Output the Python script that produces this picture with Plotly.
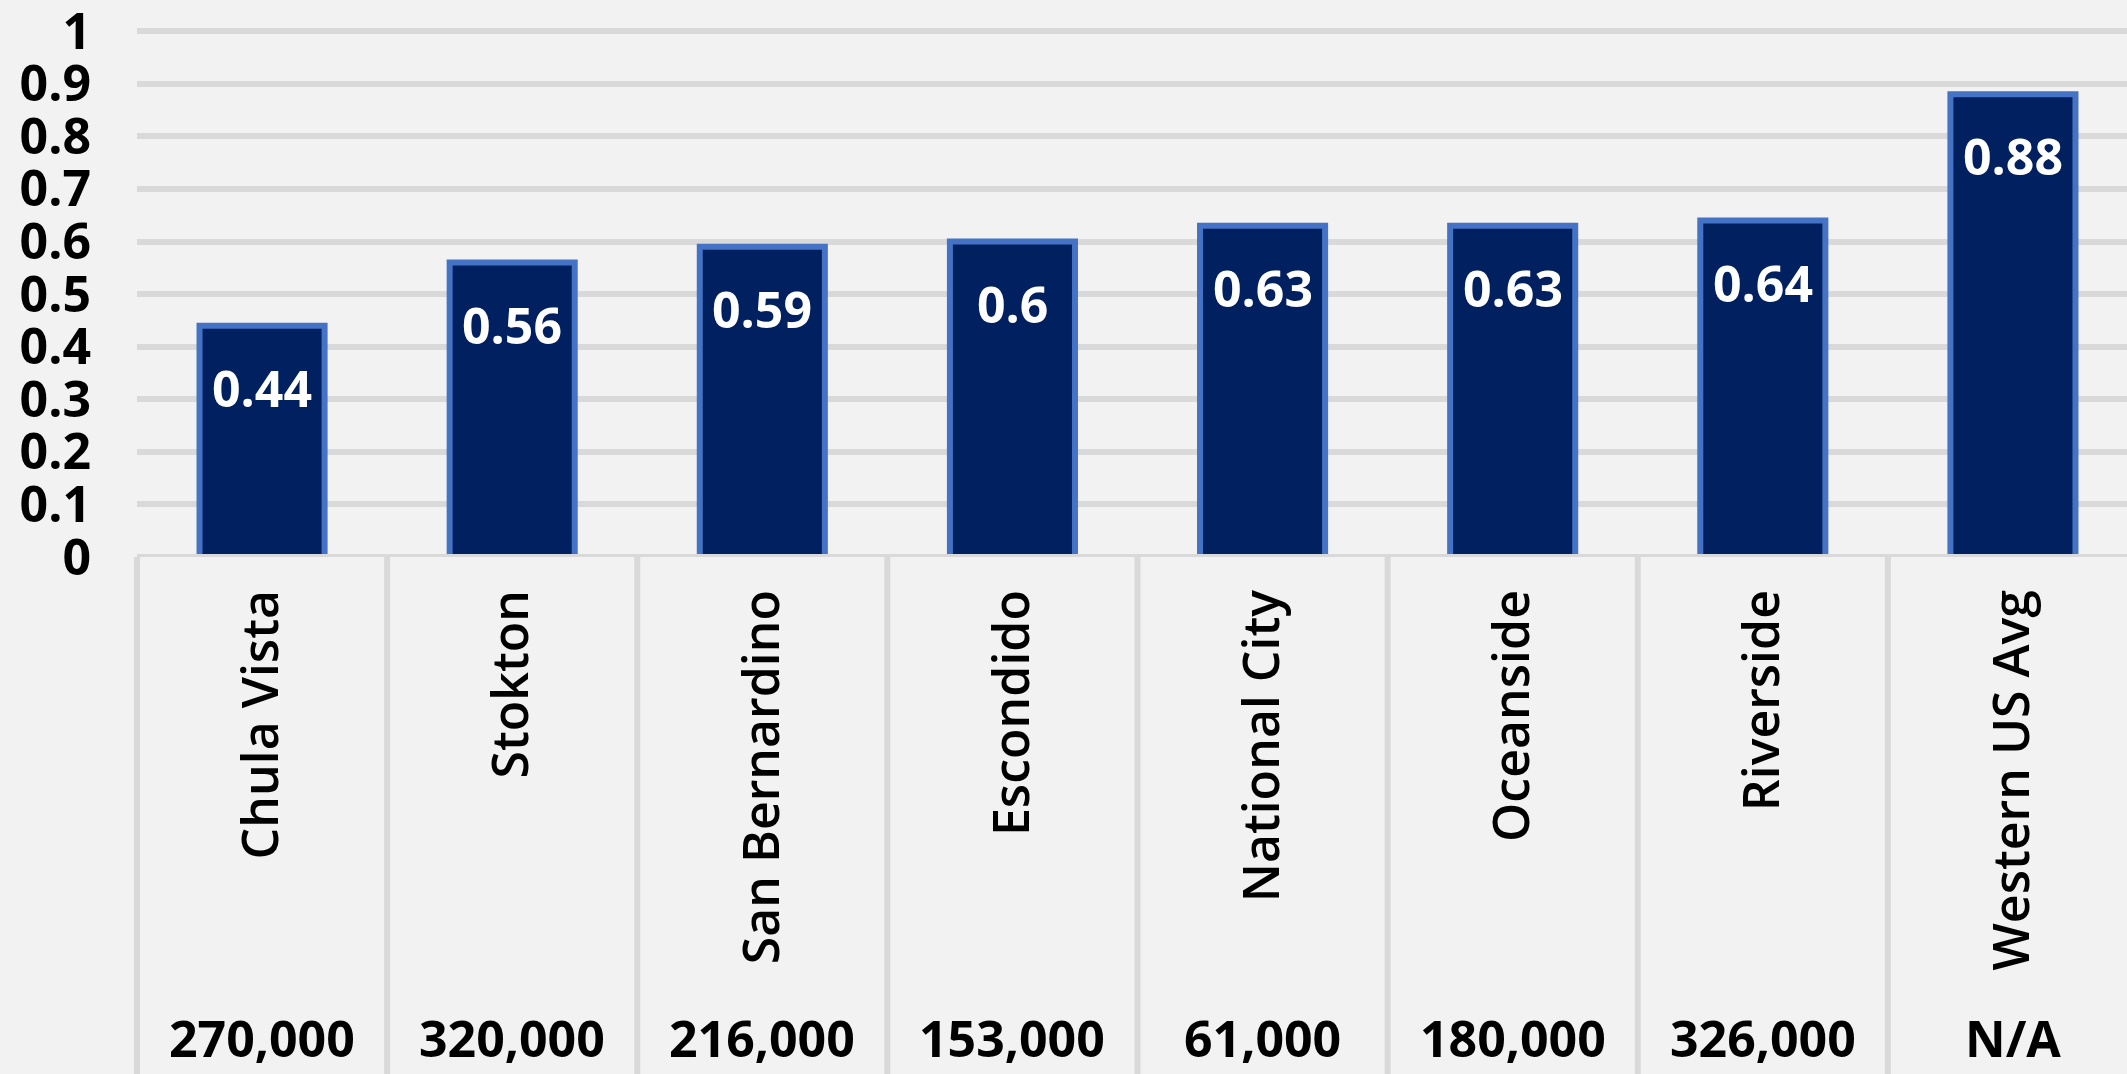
import plotly.graph_objects as go

cities = ["Chula Vista", "Stokton", "San Bernardino", "Escondido",
          "National City", "Oceanside", "Riverside", "Western US Avg"]
values = [0.44, 0.56, 0.59, 0.6, 0.63, 0.63, 0.64, 0.88]
populations = ["270,000", "320,000", "216,000", "153,000",
               "61,000", "180,000", "326,000", "N/A"]
y_ticks = [0, 0.1, 0.2, 0.3, 0.4, 0.5, 0.6, 0.7, 0.8, 0.9, 1]

BG = "#f2f2f2"
GRID = "#d9d9d9"
FONT = "Open Sans"

fig = go.Figure()
fig.add_trace(go.Bar(
    x=cities, y=values,
    marker=dict(color="#002060", line=dict(color="#4472c4", width=6)),
    hoverinfo="skip",
))

annotations = []
for c, v in zip(cities, values):
    annotations.append(dict(
        x=c, y=v, xref="x", yref="y", text=f"{v:g}", showarrow=False,
        yanchor="middle", yshift=-62,
        font=dict(family=FONT, size=50, color="white", weight=700),
    ))
for c, p in zip(cities, populations):
    annotations.append(dict(
        x=c, y=0, xref="x", yref="paper", text=p, showarrow=False,
        yanchor="middle", yshift=-481,
        font=dict(family=FONT, size=50, color="black", weight=700),
    ))

shapes = []
# left divider at plot edge
shapes.append(dict(type="line", xref="paper", yref="paper", x0=0, x1=0,
                   y0=0, y1=-1.2, line=dict(color=GRID, width=6), layer="above"))
for i in range(len(cities)):
    shapes.append(dict(type="line", xref="x", yref="paper", x0=i + 0.5, x1=i + 0.5,
                       y0=0, y1=-1.2, line=dict(color=GRID, width=6), layer="above"))
# baseline
shapes.append(dict(type="line", xref="paper", yref="y", x0=0, x1=1.05, y0=0, y1=0,
                   line=dict(color=GRID, width=6), layer="above"))

fig.update_layout(
    width=2127, height=1074, autosize=False,
    margin=dict(l=137, r=0, t=26, b=517, pad=0),
    paper_bgcolor=BG, plot_bgcolor=BG,
    showlegend=False,
    bargap=0.5,
    annotations=annotations,
    shapes=shapes,
    xaxis=dict(
        type="category", range=[-0.5, 7.456], showgrid=False, showline=False,
        zeroline=False, ticks="", tickangle=-90, automargin=False,
        tickfont=dict(family=FONT, size=50, color="black", weight=600),
        ticklabelstandoff=22, ticklabeloverflow="allow",
    ),
    yaxis=dict(
        range=[0, 1.01], tickvals=y_ticks, ticktext=[f"{t:g}" for t in y_ticks],
        showgrid=True, gridcolor=GRID, gridwidth=6, zeroline=False,
        showline=False, ticks="", automargin=False,
        tickfont=dict(family=FONT, size=50, color="black", weight=700),
        ticklabelstandoff=45, ticklabeloverflow="allow",
    ),
)

fig.write_html("out.html", config={"displayModeBar": False},
               post_script="document.body.style.margin='0';document.body.style.background='#f2f2f2';")
